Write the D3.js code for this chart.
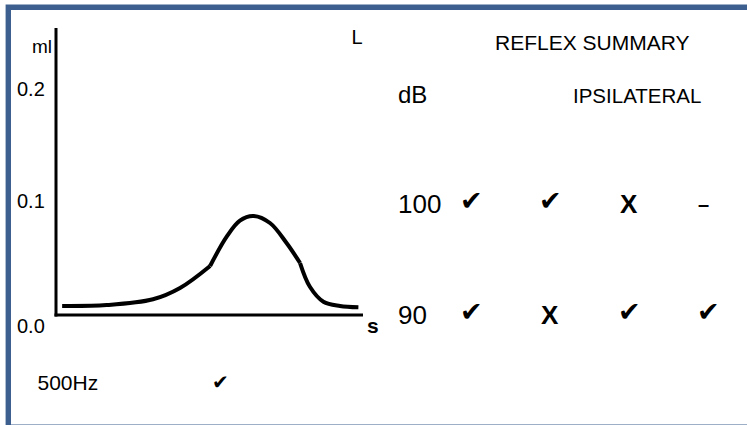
<!DOCTYPE html>
<html>
<head>
<meta charset="utf-8">
<script src="https://cdn.jsdelivr.net/npm/d3@7"></script>
<style>
  html, body { margin: 0; padding: 0; background: #fff; overflow: hidden; }
  svg { display: block; }
  text { font-family: "Liberation Sans", Arial, sans-serif; fill: #000; }
  .mark { font-family: "DejaVu Sans", sans-serif; }
</style>
</head>
<body>
<svg id="chart" width="747" height="425"></svg>
<script>
// ---- data ----
const curveTime   = [0.02, 0.165, 0.316, 0.404, 0.502, 0.556, 0.599, 0.643, 0.697, 0.751, 0.795, 0.827, 0.871, 0.925, 0.985];
const curveVolume = [0.008, 0.0088, 0.0139, 0.0239, 0.0434, 0.0693, 0.0835, 0.0876, 0.0814, 0.0637, 0.046, 0.025, 0.0118, 0.008, 0.0068];
const segmentBreaks = [4, 10];            // indices where the trace has visible joins
const yTickValues = [0.2, 0.1, 0.0];
const yTickLabels = ["0.2", "0.1", "0.0"];
const yUnit = "ml";
const xUnit = "s";
const earLabel = "L";
const frequencyLabel = "500Hz";
const frequencyResult = "✔";
const summaryTitle = "REFLEX SUMMARY";
const summaryColumnTitle = "IPSILATERAL";
const levelHeader = "dB";
const levels = ["100", "90"];
const reflexColumns = [0, 1, 2, 3];
const reflexResults = [
  ["✔", "✔", "X", "–"],
  ["✔", "X", "✔", "✔"]
];

// ---- layout ----
const svg = d3.select("#chart");

// frame: top, left and (clipped) bottom edges only
const fp = d3.path();
fp.moveTo(760, 7.3); fp.lineTo(8.3, 7.3); fp.lineTo(8.3, 427.2); fp.lineTo(760, 427.2);
svg.append("path")
  .attr("d", fp.toString())
  .attr("fill", "none")
  .attr("stroke", "#3d5f8f")
  .attr("stroke-width", 5.4);

const x = d3.scaleLinear().domain([0, 1]).range([56, 363]);
const y = d3.scaleLinear().domain([0, 0.2]).range([315, 89]);

// axes lines
svg.append("line")
  .attr("x1", x(0)).attr("x2", x(0))
  .attr("y1", 28).attr("y2", y(0) + 1.5)
  .attr("stroke", "#000").attr("stroke-width", 3);
svg.append("line")
  .attr("x1", x(0) - 1.5).attr("x2", x(1))
  .attr("y1", y(0)).attr("y2", y(0))
  .attr("stroke", "#000").attr("stroke-width", 3);

// y tick labels
const tickDy = { "0.2": 7, "0.1": 6, "0.0": 18 };
svg.selectAll("text.ytick")
  .data(yTickValues)
  .join("text")
  .attr("class", "ytick")
  .attr("x", 17)
  .attr("y", (d, i) => y(d) + tickDy[yTickLabels[i]])
  .attr("font-size", 20)
  .text((d, i) => yTickLabels[i]);

svg.append("text").attr("x", 52).attr("y", 53)
  .attr("text-anchor", "end").attr("font-size", 19).text(yUnit);

svg.append("text").attr("x", x(1) + 4).attr("y", 333)
  .attr("font-size", 21).attr("font-weight", "bold").text(xUnit);

svg.append("text").attr("x", 351.5).attr("y", 44)
  .attr("font-size", 20).text(earLabel);

// trace
const pts = curveTime.map((t, i) => [t, curveVolume[i]]);
const bounds = [0, ...segmentBreaks, pts.length - 1];
const line = d3.line()
  .x(d => x(d[0])).y(d => y(d[1]))
  .curve(d3.curveCatmullRom.alpha(0.5));
for (let s = 0; s < bounds.length - 1; s++) {
  svg.append("path")
    .attr("d", line(pts.slice(bounds[s], bounds[s + 1] + 1)))
    .attr("fill", "none")
    .attr("stroke", "#000")
    .attr("stroke-width", 4);
}

// bottom label
svg.append("text").attr("x", 37.5).attr("y", 390)
  .attr("font-size", 21).text(frequencyLabel);
svg.append("text").attr("class", "mark").attr("x", 212).attr("y", 389)
  .attr("font-size", 20).text(frequencyResult);

// summary
svg.append("text").attr("x", 495).attr("y", 50)
  .attr("font-size", 21).text(summaryTitle);
svg.append("text").attr("x", 398).attr("y", 103)
  .attr("font-size", 24).text(levelHeader);
svg.append("text").attr("x", 573).attr("y", 103)
  .attr("font-size", 20.5).text(summaryColumnTitle);

const colX = d3.scalePoint().domain(reflexColumns).range([461, 698]);
const rowY = d3.scalePoint().domain(levels).range([213, 324]);

svg.selectAll("text.level")
  .data(levels)
  .join("text")
  .attr("class", "level")
  .attr("x", 398)
  .attr("y", d => rowY(d))
  .attr("font-size", 26)
  .text(d => d);

levels.forEach((lv, r) => {
  reflexResults[r].forEach((res, c) => {
    const t = svg.append("text").attr("y", rowY(lv));
    if (res === "✔") {
      t.attr("class", "mark").attr("x", colX(c) - 1).attr("dy", -3)
        .attr("font-size", 27).text(res);
    } else if (res === "X") {
      t.attr("x", colX(c) + 1).attr("font-size", 26).attr("font-weight", "bold").text(res);
    } else {
      t.attr("x", colX(c)).attr("dy", -2).attr("font-size", 20).attr("font-weight", "bold").text(res);
    }
  });
});
</script>
</body>
</html>
